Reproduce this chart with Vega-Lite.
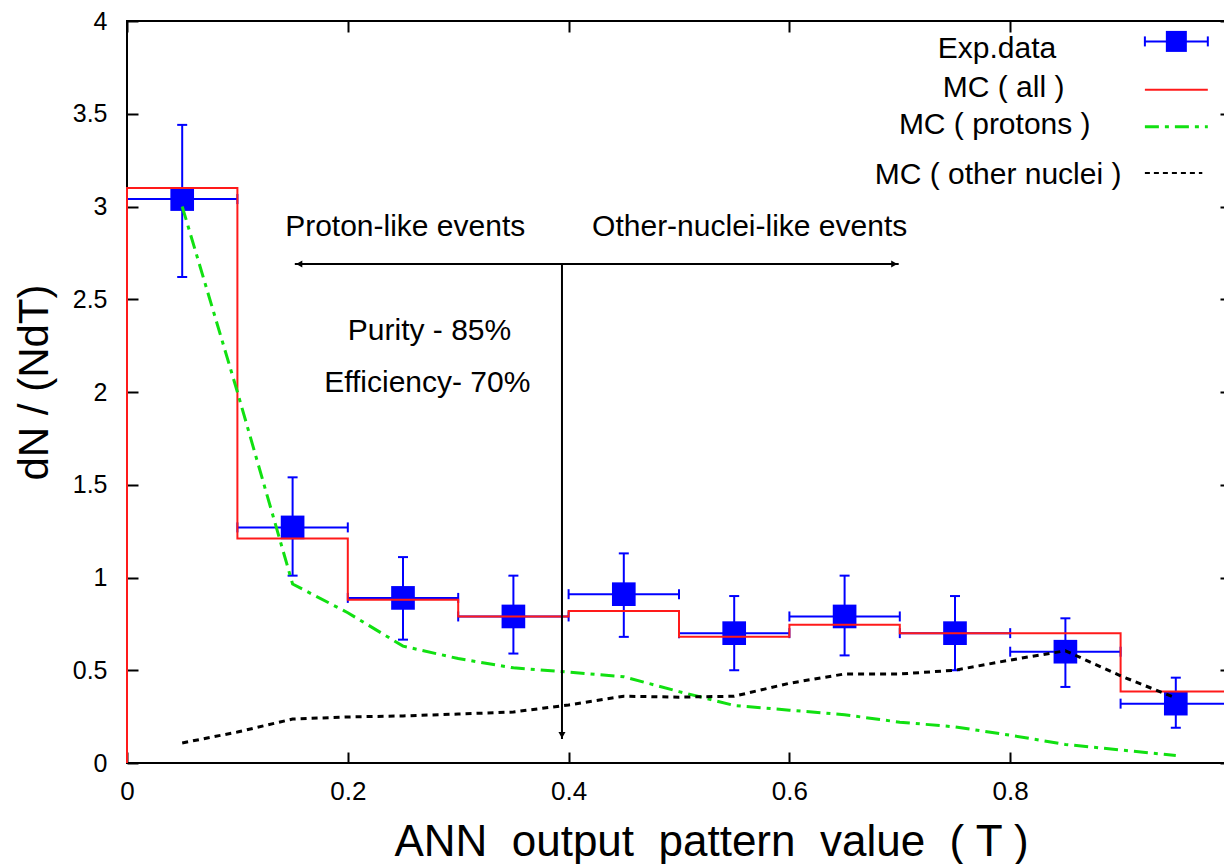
{
  "$schema": "https://vega.github.io/schema/vega-lite/v6.json",
  "width": 1104,
  "height": 742,
  "autosize": {"type": "none"},
  "padding": {"left": 127, "top": 21, "right": 0, "bottom": 101},
  "background": "white",
  "config": {
    "font": "Liberation Sans",
    "view": {"stroke": "black", "strokeWidth": 2},
    "axis": {"domain": false, "grid": false, "tickColor": "black", "tickWidth": 2, "tickSize": -11, "labelColor": "black", "titleColor": "black", "labelFont": "Liberation Sans", "titleFont": "Liberation Sans", "titleFontWeight": "normal"},
    "text": {"font": "Liberation Sans", "color": "black"}
  },
  "datasets": {
    "exp": [
      {"x": 0.05, "y": 3.04, "ylo": 2.62, "yhi": 3.44, "xlo": 0.0, "xhi": 0.1},
      {"x": 0.15, "y": 1.27, "ylo": 1.01, "yhi": 1.54, "xlo": 0.1, "xhi": 0.2},
      {"x": 0.25, "y": 0.89, "ylo": 0.665, "yhi": 1.11, "xlo": 0.2, "xhi": 0.3},
      {"x": 0.35, "y": 0.79, "ylo": 0.59, "yhi": 1.01, "xlo": 0.3, "xhi": 0.4},
      {"x": 0.45, "y": 0.91, "ylo": 0.68, "yhi": 1.13, "xlo": 0.4, "xhi": 0.5},
      {"x": 0.55, "y": 0.70, "ylo": 0.50, "yhi": 0.90, "xlo": 0.5, "xhi": 0.6},
      {"x": 0.65, "y": 0.79, "ylo": 0.58, "yhi": 1.01, "xlo": 0.6, "xhi": 0.7},
      {"x": 0.75, "y": 0.70, "ylo": 0.50, "yhi": 0.90, "xlo": 0.7, "xhi": 0.8},
      {"x": 0.85, "y": 0.60, "ylo": 0.41, "yhi": 0.78, "xlo": 0.8, "xhi": 0.9},
      {"x": 0.95, "y": 0.32, "ylo": 0.19, "yhi": 0.46, "xlo": 0.9, "xhi": 1.0}
    ],
    "mcall": [
      {"x": 0.0, "y": 0.0},
      {"x": 0.0, "y": 3.10},
      {"x": 0.1, "y": 1.21},
      {"x": 0.2, "y": 0.88},
      {"x": 0.3, "y": 0.79},
      {"x": 0.4, "y": 0.82},
      {"x": 0.5, "y": 0.68},
      {"x": 0.6, "y": 0.745},
      {"x": 0.7, "y": 0.70},
      {"x": 0.8, "y": 0.70},
      {"x": 0.9, "y": 0.385},
      {"x": 1.0, "y": 0.385}
    ],
    "protons": [
      {"x": 0.05, "y": 3.0},
      {"x": 0.1, "y": 2.0},
      {"x": 0.15, "y": 0.965},
      {"x": 0.2, "y": 0.81},
      {"x": 0.25, "y": 0.63},
      {"x": 0.3, "y": 0.563},
      {"x": 0.35, "y": 0.513},
      {"x": 0.4, "y": 0.49},
      {"x": 0.45, "y": 0.465},
      {"x": 0.5, "y": 0.385},
      {"x": 0.55, "y": 0.31},
      {"x": 0.6, "y": 0.285},
      {"x": 0.65, "y": 0.26},
      {"x": 0.7, "y": 0.22},
      {"x": 0.75, "y": 0.195},
      {"x": 0.8, "y": 0.15},
      {"x": 0.85, "y": 0.10},
      {"x": 0.9, "y": 0.07},
      {"x": 0.95, "y": 0.04}
    ],
    "nuclei": [
      {"x": 0.05, "y": 0.108},
      {"x": 0.1, "y": 0.167},
      {"x": 0.15, "y": 0.237},
      {"x": 0.2, "y": 0.248},
      {"x": 0.25, "y": 0.254},
      {"x": 0.3, "y": 0.264},
      {"x": 0.35, "y": 0.275},
      {"x": 0.4, "y": 0.313},
      {"x": 0.45, "y": 0.36},
      {"x": 0.5, "y": 0.355},
      {"x": 0.55, "y": 0.36},
      {"x": 0.6, "y": 0.43},
      {"x": 0.65, "y": 0.48},
      {"x": 0.7, "y": 0.48},
      {"x": 0.75, "y": 0.50},
      {"x": 0.8, "y": 0.555},
      {"x": 0.85, "y": 0.605},
      {"x": 0.9, "y": 0.47},
      {"x": 0.95, "y": 0.35}
    ]
  },
  "resolve": {"axis": {"x": "independent", "y": "independent"}},
  "layer": [
    {
      "layer": [
        {
          "data": {"name": "exp"},
          "mark": {"type": "rule", "color": "#0000ff", "strokeWidth": 2},
          "encoding": {
            "x": {"field": "x", "type": "quantitative", "scale": {"domain": [0, 1], "nice": false, "zero": false},
              "axis": {"orient": "bottom", "values": [0, 0.2, 0.4, 0.6, 0.8], "format": "~g", "title": "ANN\u00a0 output\u00a0 pattern\u00a0 value\u00a0 ( T )", "titleFontSize": 44, "titleX": 584, "titleY": 92, "titleAlign": "center", "titleBaseline": "alphabetic", "labelFontSize": 26, "labelPadding": 26, "labelBaseline": "top", "labelFlush": false}},
            "y": {"field": "ylo", "type": "quantitative", "scale": {"domain": [0, 4], "nice": false, "zero": false},
              "axis": {"orient": "left", "values": [0, 0.5, 1, 1.5, 2, 2.5, 3, 3.5, 4], "format": "~g", "title": "dN / (NdT)", "titleFontSize": 42, "titleX": -93, "titleY": 361, "titleAlign": "center", "titleBaseline": "middle", "titleAngle": 270, "labelFontSize": 25, "labelPadding": 31, "labelFlush": false}},
            "y2": {"field": "yhi"}
          }
        },
        {
          "data": {"name": "exp"},
          "mark": {"type": "rule", "color": "#0000ff", "strokeWidth": 2},
          "encoding": {
            "x": {"field": "xlo", "type": "quantitative"},
            "x2": {"field": "xhi"},
            "y": {"field": "y", "type": "quantitative"}
          }
        },
        {
          "data": {"name": "exp"},
          "mark": {"type": "tick", "orient": "horizontal", "color": "#0000ff", "size": 10, "thickness": 2, "opacity": 1},
          "encoding": {
            "x": {"field": "x", "type": "quantitative"},
            "y": {"field": "ylo", "type": "quantitative"}
          }
        },
        {
          "data": {"name": "exp"},
          "mark": {"type": "tick", "orient": "horizontal", "color": "#0000ff", "size": 10, "thickness": 2, "opacity": 1},
          "encoding": {
            "x": {"field": "x", "type": "quantitative"},
            "y": {"field": "yhi", "type": "quantitative"}
          }
        },
        {
          "data": {"name": "exp"},
          "mark": {"type": "tick", "orient": "vertical", "color": "#0000ff", "size": 10, "thickness": 2, "opacity": 1},
          "encoding": {
            "x": {"field": "xlo", "type": "quantitative"},
            "y": {"field": "y", "type": "quantitative"}
          }
        },
        {
          "data": {"name": "exp"},
          "mark": {"type": "tick", "orient": "vertical", "color": "#0000ff", "size": 10, "thickness": 2, "opacity": 1},
          "encoding": {
            "x": {"field": "xhi", "type": "quantitative"},
            "y": {"field": "y", "type": "quantitative"}
          }
        },
        {
          "data": {"name": "exp"},
          "mark": {"type": "point", "shape": "square", "filled": true, "color": "#0000ff", "size": 560, "opacity": 1},
          "encoding": {
            "x": {"field": "x", "type": "quantitative"},
            "y": {"field": "y", "type": "quantitative"}
          }
        },
        {
          "data": {"name": "mcall"},
          "mark": {"type": "line", "interpolate": "step-after", "color": "#ff1a1a", "strokeWidth": 2},
          "encoding": {
            "x": {"field": "x", "type": "quantitative"},
            "y": {"field": "y", "type": "quantitative"},
            "order": {"value": null}
          }
        },
        {
          "data": {"name": "protons"},
          "mark": {"type": "line", "color": "#11e011", "strokeWidth": 3, "strokeDash": [14, 6, 4, 6]},
          "encoding": {
            "x": {"field": "x", "type": "quantitative"},
            "y": {"field": "y", "type": "quantitative"}
          }
        },
        {
          "data": {"name": "nuclei"},
          "mark": {"type": "line", "color": "black", "strokeWidth": 3, "strokeDash": [6, 5]},
          "encoding": {
            "x": {"field": "x", "type": "quantitative"},
            "y": {"field": "y", "type": "quantitative"}
          }
        },
        {
          "data": {"values": [{}]},
          "mark": {"type": "rule", "color": "black", "strokeWidth": 2},
          "encoding": {
            "x": {"datum": 0.152, "type": "quantitative"},
            "x2": {"datum": 0.699},
            "y": {"datum": 2.69, "type": "quantitative"}
          }
        },
        {
          "data": {"values": [{}]},
          "mark": {"type": "rule", "color": "black", "strokeWidth": 2},
          "encoding": {
            "x": {"datum": 0.394, "type": "quantitative"},
            "y": {"datum": 2.69, "type": "quantitative"},
            "y2": {"datum": 0.13}
          }
        },
        {
          "data": {"values": [{}]},
          "mark": {"type": "point", "shape": "triangle-left", "filled": true, "color": "black", "size": 50, "opacity": 1},
          "encoding": {
            "x": {"datum": 0.156, "type": "quantitative"},
            "y": {"datum": 2.69, "type": "quantitative"}
          }
        },
        {
          "data": {"values": [{}]},
          "mark": {"type": "point", "shape": "triangle-right", "filled": true, "color": "black", "size": 50, "opacity": 1},
          "encoding": {
            "x": {"datum": 0.695, "type": "quantitative"},
            "y": {"datum": 2.69, "type": "quantitative"}
          }
        },
        {
          "data": {"values": [{}]},
          "mark": {"type": "point", "shape": "triangle-down", "filled": true, "color": "black", "size": 50, "opacity": 1},
          "encoding": {
            "x": {"datum": 0.394, "type": "quantitative"},
            "y": {"datum": 0.15, "type": "quantitative"}
          }
        },
        {
          "data": {"values": [{}]},
          "mark": {"type": "text", "text": "Proton-like events", "fontSize": 30, "align": "center", "baseline": "middle"},
          "encoding": {
            "x": {"datum": 0.252, "type": "quantitative"},
            "y": {"datum": 2.89, "type": "quantitative"}
          }
        },
        {
          "data": {"values": [{}]},
          "mark": {"type": "text", "text": "Other-nuclei-like events", "fontSize": 30, "align": "center", "baseline": "middle"},
          "encoding": {
            "x": {"datum": 0.564, "type": "quantitative"},
            "y": {"datum": 2.89, "type": "quantitative"}
          }
        },
        {
          "data": {"values": [{}]},
          "mark": {"type": "text", "text": "Purity - 85%", "fontSize": 30, "align": "center", "baseline": "middle"},
          "encoding": {
            "x": {"datum": 0.274, "type": "quantitative"},
            "y": {"datum": 2.33, "type": "quantitative"}
          }
        },
        {
          "data": {"values": [{}]},
          "mark": {"type": "text", "text": "Efficiency- 70%", "fontSize": 30, "align": "center", "baseline": "middle"},
          "encoding": {
            "x": {"datum": 0.272, "type": "quantitative"},
            "y": {"datum": 2.05, "type": "quantitative"}
          }
        },
        {
          "data": {"values": [{}]},
          "mark": {"type": "text", "text": "Exp.data", "fontSize": 30, "align": "center", "baseline": "middle"},
          "encoding": {
            "x": {"datum": 0.788, "type": "quantitative"},
            "y": {"datum": 3.85, "type": "quantitative"}
          }
        },
        {
          "data": {"values": [{}]},
          "mark": {"type": "text", "text": "MC ( all )", "fontSize": 30, "align": "center", "baseline": "middle"},
          "encoding": {
            "x": {"datum": 0.794, "type": "quantitative"},
            "y": {"datum": 3.64, "type": "quantitative"}
          }
        },
        {
          "data": {"values": [{}]},
          "mark": {"type": "text", "text": "MC ( protons )", "fontSize": 30, "align": "center", "baseline": "middle"},
          "encoding": {
            "x": {"datum": 0.786, "type": "quantitative"},
            "y": {"datum": 3.44, "type": "quantitative"}
          }
        },
        {
          "data": {"values": [{}]},
          "mark": {"type": "text", "text": "MC ( other nuclei )", "fontSize": 30, "align": "center", "baseline": "middle"},
          "encoding": {
            "x": {"datum": 0.789, "type": "quantitative"},
            "y": {"datum": 3.17, "type": "quantitative"}
          }
        },
        {
          "data": {"values": [{}]},
          "mark": {"type": "rule", "color": "#0000ff", "strokeWidth": 2},
          "encoding": {
            "x": {"datum": 0.922, "type": "quantitative"},
            "x2": {"datum": 0.979},
            "y": {"datum": 3.89, "type": "quantitative"}
          }
        },
        {
          "data": {"values": [{}]},
          "mark": {"type": "tick", "orient": "vertical", "color": "#0000ff", "size": 10, "thickness": 2, "opacity": 1},
          "encoding": {
            "x": {"datum": 0.922, "type": "quantitative"},
            "y": {"datum": 3.89, "type": "quantitative"}
          }
        },
        {
          "data": {"values": [{}]},
          "mark": {"type": "tick", "orient": "vertical", "color": "#0000ff", "size": 10, "thickness": 2, "opacity": 1},
          "encoding": {
            "x": {"datum": 0.979, "type": "quantitative"},
            "y": {"datum": 3.89, "type": "quantitative"}
          }
        },
        {
          "data": {"values": [{}]},
          "mark": {"type": "point", "shape": "square", "filled": true, "color": "#0000ff", "size": 441, "opacity": 1},
          "encoding": {
            "x": {"datum": 0.9505, "type": "quantitative"},
            "y": {"datum": 3.89, "type": "quantitative"}
          }
        },
        {
          "data": {"values": [{}]},
          "mark": {"type": "rule", "color": "#ff1a1a", "strokeWidth": 2},
          "encoding": {
            "x": {"datum": 0.922, "type": "quantitative"},
            "x2": {"datum": 0.979},
            "y": {"datum": 3.63, "type": "quantitative"}
          }
        },
        {
          "data": {"values": [{}]},
          "mark": {"type": "rule", "color": "#11e011", "strokeWidth": 3, "strokeDash": [14, 6, 4, 6]},
          "encoding": {
            "x": {"datum": 0.922, "type": "quantitative"},
            "x2": {"datum": 0.979},
            "y": {"datum": 3.43, "type": "quantitative"}
          }
        },
        {
          "data": {"values": [{}]},
          "mark": {"type": "rule", "color": "black", "strokeWidth": 2, "strokeDash": [5, 4]},
          "encoding": {
            "x": {"datum": 0.922, "type": "quantitative"},
            "x2": {"datum": 0.974},
            "y": {"datum": 3.18, "type": "quantitative"}
          }
        }
      ]
    },
    {
      "data": {"name": "exp"},
      "mark": {"type": "point", "opacity": 0},
      "encoding": {
        "x": {"field": "x", "type": "quantitative", "axis": {"orient": "top", "values": [0, 0.2, 0.4, 0.6, 0.8, 1], "labels": false, "title": null}},
        "y": {"field": "y", "type": "quantitative", "axis": {"orient": "right", "values": [0, 0.5, 1, 1.5, 2, 2.5, 3, 3.5, 4], "labels": false, "title": null}}
      }
    }
  ]
}
